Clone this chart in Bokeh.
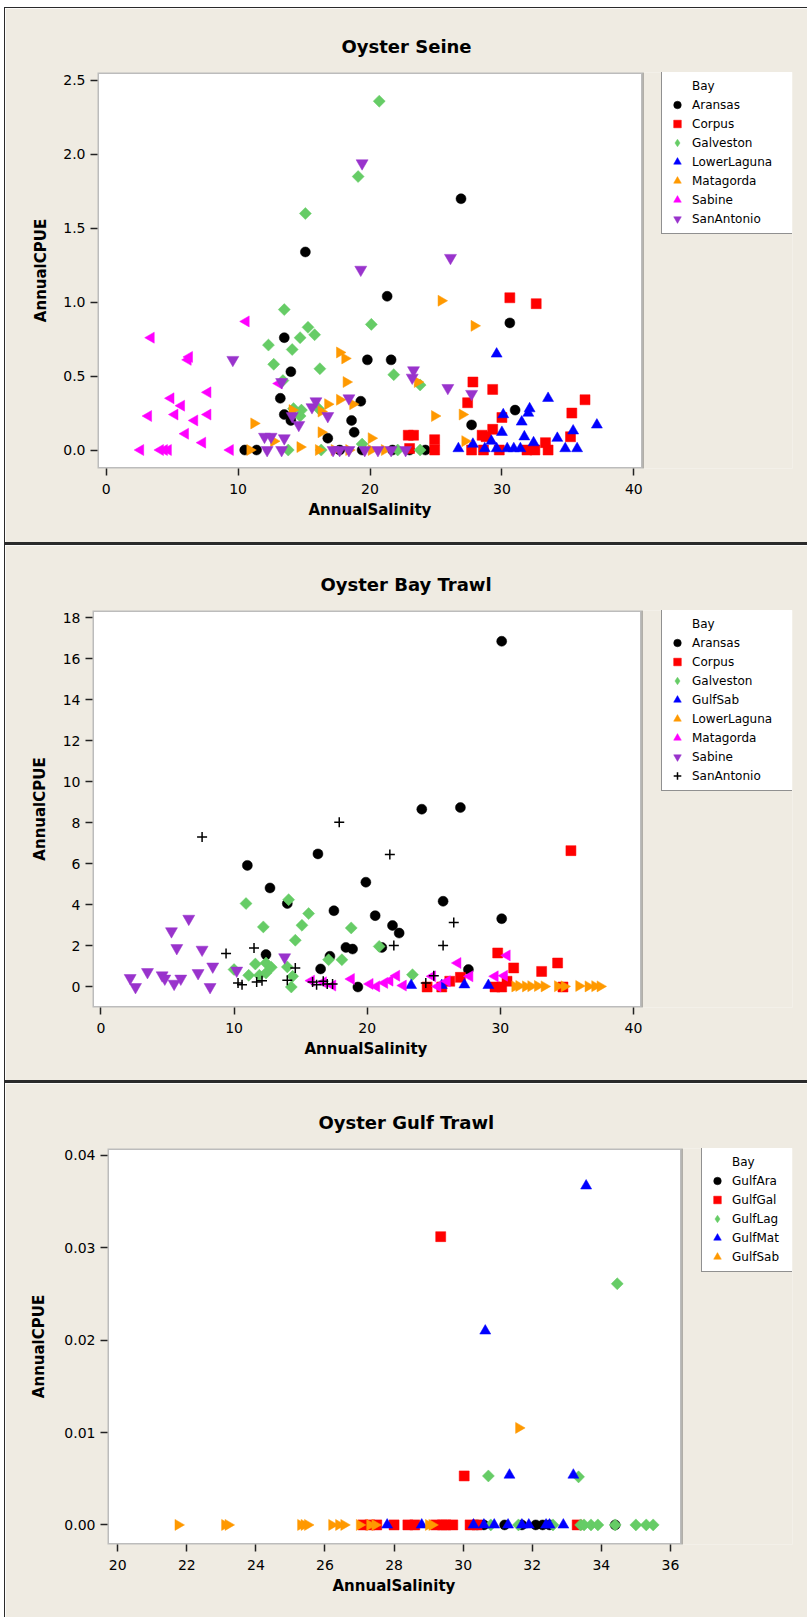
import math
from bokeh.plotting import figure
from bokeh.models import (Legend, LegendItem, FixedTicker, PrintfTickFormatter,
                          Range1d, Div, Spacer, BoxAnnotation, Title)
from bokeh.layouts import column, row
from bokeh.embed import file_html
from bokeh.resources import INLINE

# ---------------- data: Oyster Seine ----------------
seine_aransas_x = [10.5, 11.4, 13.2, 13.5, 13.5, 14.0, 14.0, 15.1, 16.8, 17.7, 18.6, 18.8, 19.3, 19.4, 19.8, 21.3, 21.6, 21.7, 23.0, 24.2, 26.9, 27.7, 30.6, 31.0]
seine_aransas_y = [0, 0, 0.35, 0.76, 0.24, 0.53, 0.20, 1.34, 0.08, 0, 0.20, 0.12, 0.33, 0, 0.61, 1.04, 0.61, 0, 0, 0, 1.70, 0.17, 0.86, 0.27]
seine_corpus_x = [22.9, 23.3, 23.0, 24.9, 24.9, 27.4, 27.8, 27.7, 28.5, 28.8, 28.6, 29.3, 29.3, 29.8, 30.0, 30.6, 31.9, 32.5, 32.6, 33.3, 33.5, 35.2, 35.3, 36.3]
seine_corpus_y = [0.10, 0.10, 0.01, 0.07, 0.0, 0.32, 0.46, 0.0, 0.10, 0.09, 0.0, 0.41, 0.14, 0.0, 0.22, 1.03, 0.0, 0.0, 0.99, 0.05, 0.0, 0.09, 0.25, 0.34]
seine_galveston_x = [12.3, 12.7, 13.4, 13.5, 13.8, 14.1, 14.2, 14.7, 14.7, 14.8, 15.1, 15.3, 15.8, 16.1, 16.2, 16.3, 19.1, 19.4, 20.1, 20.7, 21.8, 22.1, 23.8, 23.8]
seine_galveston_y = [0.71, 0.58, 0.47, 0.95, 0.0, 0.68, 0.28, 0.76, 0.23, 0.27, 1.60, 0.83, 0.78, 0.28, 0.55, 0.0, 1.85, 0.04, 0.85, 2.36, 0.51, 0.0, 0.44, 0.0]
seine_lowerlaguna_x = [26.7, 27.8, 28.7, 29.2, 29.6, 29.6, 30.0, 30.1, 30.4, 30.9, 31.4, 31.5, 31.7, 32.0, 32.1, 32.4, 33.5, 34.2, 34.8, 35.4, 35.7, 37.2]
seine_lowerlaguna_y = [0.01, 0.04, 0.01, 0.06, 0.01, 0.65, 0.12, 0.24, 0.01, 0.01, 0.01, 0.19, 0.09, 0.25, 0.28, 0.05, 0.35, 0.08, 0.01, 0.13, 0.01, 0.17]
seine_matagorda_x = [10.9, 11.2, 12.7, 14.1, 14.7, 16.1, 16.3, 16.3, 16.8, 17.3, 17.7, 17.7, 18.1, 18.2, 18.4, 18.7, 20.1, 20.1, 21.1, 23.6, 24.9, 25.4, 27.0, 27.2, 27.9]
seine_matagorda_y = [0.0, 0.18, 0.06, 0.27, 0.02, 0.0, 0.26, 0.12, 0.31, 0.0, 0.66, 0.34, 0.62, 0.46, 0.0, 0.31, 0.08, 0.0, 0.0, 0.46, 0.23, 1.01, 0.24, 0.06, 0.84]
seine_sabine_x = [2.6, 3.2, 3.4, 4.1, 4.4, 4.7, 4.9, 5.2, 5.7, 6.0, 6.2, 6.3, 6.7, 7.3, 7.7, 7.7, 9.4, 10.6, 13.1]
seine_sabine_y = [0.0, 0.23, 0.76, 0.0, 0.0, 0.0, 0.35, 0.24, 0.30, 0.11, 0.61, 0.63, 0.20, 0.05, 0.39, 0.24, 0.0, 0.87, 0.45]
seine_sanantonio_x = [9.6, 12.0, 12.2, 12.5, 13.3, 13.3, 13.5, 14.1, 14.6, 15.6, 15.9, 16.8, 17.2, 17.7, 18.4, 18.4, 19.3, 19.4, 19.6, 20.6, 21.6, 22.7, 23.2, 23.3, 25.9, 26.1, 27.7]
seine_sanantonio_y = [0.61, 0.09, 0.0, 0.09, 0.46, 0.0, 0.08, 0.23, 0.17, 0.29, 0.33, 0.23, 0.0, 0.0, 0.0, 0.35, 1.22, 1.94, 0.0, 0.0, 0.0, 0.0, 0.49, 0.54, 0.42, 1.30, 0.38]

# ---------------- data: Oyster Bay Trawl ----------------
bay_aransas_x = [11.0, 12.4, 12.7, 14.0, 16.3, 16.5, 17.2, 17.5, 18.4, 18.9, 19.3, 19.9, 20.6, 21.1, 21.9, 22.4, 24.1, 25.7, 27.0, 27.6, 30.1, 30.1]
bay_aransas_y = [5.93, 1.58, 4.83, 4.07, 6.49, 0.88, 1.50, 3.72, 1.93, 1.85, 0.0, 5.11, 3.48, 1.93, 3.0, 2.63, 8.67, 4.18, 8.75, 0.85, 16.86, 3.33]
bay_corpus_x = [24.5, 25.6, 26.2, 27.0, 29.6, 29.8, 30.1, 30.5, 31.0, 33.1, 34.3, 34.7, 35.3]
bay_corpus_y = [0.0, 0.0, 0.28, 0.47, 0.0, 1.66, 0.0, 0.28, 0.93, 0.76, 1.17, 0.0, 6.65]
bay_galveston_x = [10.0, 10.9, 11.1, 11.6, 11.9, 12.2, 12.4, 12.4, 12.8, 14.0, 14.1, 14.3, 14.4, 14.6, 15.1, 15.6, 17.1, 18.1, 18.8, 20.9, 23.4]
bay_galveston_y = [0.85, 4.07, 0.57, 1.12, 0.57, 2.93, 1.17, 0.68, 0.96, 0.98, 4.26, 0.0, 0.52, 2.28, 3.01, 3.58, 1.33, 1.33, 2.88, 1.98, 0.60]
bay_gulfsab_x = [23.3, 25.6, 27.3, 29.1]
bay_gulfsab_y = [0.08, 0.08, 0.11, 0.08]
bay_lowerlaguna_x = [31.1, 31.4, 31.9, 32.3, 32.8, 33.3, 34.3, 34.8, 35.9, 36.6, 37.1, 37.5]
bay_lowerlaguna_y = [0.03, 0.05, 0.03, 0.04, 0.05, 0.03, 0.04, 0.03, 0.05, 0.03, 0.04, 0.03]
bay_matagorda_x = [15.8, 16.7, 17.4, 18.8, 20.2, 20.7, 21.3, 21.7, 22.2, 22.7, 24.9, 25.3, 26.0, 26.8, 27.7, 29.6, 30.3, 30.5]
bay_matagorda_y = [0.31, 0.23, 0.07, 0.39, 0.15, 0.03, 0.20, 0.31, 0.55, 0.07, 0.52, 0.03, 0.28, 1.17, 0.52, 0.52, 0.55, 1.54]
bay_sabine_x = [2.2, 2.6, 3.5, 4.6, 4.8, 5.3, 5.5, 5.7, 6.0, 6.6, 7.3, 7.6, 8.2, 8.4, 10.2, 13.8]
bay_sabine_y = [0.44, 0.0, 0.73, 0.57, 0.41, 2.72, 0.16, 1.90, 0.41, 3.33, 0.68, 1.82, 0.0, 1.0, 0.80, 1.45]
bay_sanantonio_x = [7.6, 9.4, 10.3, 10.6, 11.5, 11.7, 12.1, 14.0, 14.6, 15.9, 16.2, 16.7, 17.0, 17.4, 17.9, 21.7, 22.0, 24.4, 25.0, 25.7, 26.5]
bay_sanantonio_y = [7.32, 1.63, 0.20, 0.11, 1.90, 0.24, 0.31, 0.33, 0.93, 0.24, 0.11, 0.28, 0.15, 0.15, 8.03, 6.46, 2.02, 0.20, 0.55, 2.02, 3.15]

# ---------------- data: Oyster Gulf Trawl ----------------
gulf_ara_x = [30.4, 30.6, 31.2, 31.7, 32.1, 32.3, 32.5, 34.4]
gulf_ara_y = [0, 0, 0, 0, 0, 0, 0, 0]
gulf_gal_x = [27.1, 27.3, 27.5, 28.0, 28.4, 28.6, 29.2, 29.35, 29.4, 29.5, 29.7, 30.03, 30.2, 30.4, 33.3]
gulf_gal_y = [0, 0, 0, 0, 0, 0, 0, 0.0312, 0, 0, 0, 0.0053, 0, 0, 0]
gulf_lag_x = [30.73, 30.8, 31.6, 32.6, 33.34, 33.4, 33.5, 33.7, 33.9, 34.4, 34.46, 35.0, 35.3, 35.5]
gulf_lag_y = [0.0053, 0, 0, 0, 0.0052, 0, 0, 0, 0, 0, 0.0261, 0, 0, 0]
gulf_mat_x = [27.8, 28.8, 30.3, 30.6, 30.64, 30.9, 31.3, 31.34, 31.7, 31.9, 32.4, 32.5, 32.9, 33.19, 33.56]
gulf_mat_y = [0, 0, 0, 0, 0.0210, 0, 0, 0.0054, 0, 0, 0, 0, 0, 0.0054, 0.0367]
gulf_sab_x = [21.75, 23.1, 23.2, 25.3, 25.4, 25.5, 26.2, 26.4, 26.55, 27.0, 27.3, 27.45, 29.0, 29.1, 31.61]
gulf_sab_y = [0, 0, 0, 0, 0, 0, 0, 0, 0, 0, 0, 0, 0, 0, 0.0105]

# tick values
seine_xticks = [0, 10, 20, 30, 40]
seine_yticks = [0.0, 0.5, 1.0, 1.5, 2.0, 2.5]
bay_xticks = [0, 10, 20, 30, 40]
bay_yticks = [0, 2, 4, 6, 8, 10, 12, 14, 16, 18]
gulf_xticks = [20, 22, 24, 26, 28, 30, 32, 34, 36]
gulf_yticks = [0.00, 0.01, 0.02, 0.03, 0.04]

BG = "#EFEBE2"
FONT = "DejaVu Sans"
DARK = "#222222"
LINE = "#2a2a2a"

# symbol styles (Minitab order); "legend" = marker shown in the legend key
S_CIRCLE = dict(marker="circle", size=10, angle=0.0, color="black", legend="circle")
S_SQUARE = dict(marker="square", size=10, angle=0.0, color="#FF0000", legend="square")
S_DIAMOND = dict(marker="square", size=8.5, angle=math.pi / 4, color="#66CC66", legend="diamond")
S_TRI = dict(marker="triangle", size=11, angle=0.0, color="#0000FF", legend="triangle")
S_RIGHT = dict(marker="triangle", size=11, angle=-math.pi / 2, color="#FF9900", legend="triangle")
S_LEFT = dict(marker="triangle", size=11, angle=math.pi / 2, color="#FF00FF", legend="triangle")
S_DOWN = dict(marker="inverted_triangle", size=12, angle=0.0, color="#9933CC", legend="inverted_triangle")
S_CROSS = dict(marker="cross", size=10, angle=0.0, color="black", legend="cross")


def make_panel(title, title_offset, xlab_offset, frame_w, frame_h, borders,
               plot_x, frame_x_end, yr, xticks, yticks, yfmt,
               groups, legend_x, label_width, ylab_standoff):
    left, right, top, bottom = borders
    p = figure(frame_width=frame_w, frame_height=frame_h,
               output_backend="svg", toolbar_location=None,
               x_range=Range1d(plot_x[0], frame_x_end), y_range=Range1d(*yr), title=title,
               min_border_left=left, min_border_right=right,
               min_border_top=top, min_border_bottom=bottom,
               background_fill_color=BG, border_fill_color=BG)
    if "frame_align" in p.properties():
        p.frame_align = False

    # white plotting region with its dark frame (the legend sits to its right)
    p.add_layout(BoxAnnotation(left=plot_x[0], right=plot_x[1], bottom=yr[0], top=yr[1],
                               fill_color="white", fill_alpha=1.0,
                               line_color=DARK, line_width=3, level="underlay"))

    p.title.align = "left"
    p.title.offset = title_offset
    p.title.text_font = FONT
    p.title.text_font_size = "18px"
    p.title.text_font_style = "bold"
    p.title.text_color = "black"
    p.title.standoff = 31

    p.grid.visible = False
    p.outline_line_color = None

    for ax in (p.xaxis[0], p.yaxis[0]):
        ax.axis_line_color = None
        ax.major_tick_out = 7
        ax.major_tick_in = 0
        ax.minor_tick_line_color = None
        ax.major_tick_line_color = DARK
        ax.major_tick_line_width = 1.5
        ax.major_label_text_font = FONT
        ax.major_label_text_font_size = "14px"
        ax.major_label_text_color = "black"
        ax.axis_label_text_font = FONT
        ax.axis_label_text_font_size = "15px"
        ax.axis_label_text_font_style = "bold"
        ax.axis_label_text_color = "black"

    p.yaxis.axis_label = "AnnualCPUE"
    p.xaxis.ticker = FixedTicker(ticks=xticks)
    p.yaxis.ticker = FixedTicker(ticks=yticks)
    p.xaxis.formatter = PrintfTickFormatter(format="%d")
    p.yaxis.formatter = PrintfTickFormatter(format=yfmt)
    p.xaxis.major_label_standoff = 8
    p.yaxis.major_label_standoff = 5
    p.yaxis.axis_label_standoff = ylab_standoff

    # x axis title, centred under the plotting region
    p.add_layout(Title(text="AnnualSalinity", align="left", offset=xlab_offset,
                       vertical_align="top", standoff=9,
                       text_font=FONT, text_font_size="15px", text_font_style="bold",
                       text_color="black"), "below")

    header = p.scatter(x=[], y=[], marker="circle", size=1, fill_alpha=0, line_alpha=0)
    items = [LegendItem(label="Bay", renderers=[header])]
    for name, xs, ys, st in groups:
        r = p.scatter(x=xs, y=ys, marker=st["marker"], size=st["size"], angle=st["angle"],
                      fill_color=st["color"], line_color=st["color"],
                      line_width=1.5 if st["marker"] == "cross" else 0.5)
        if st["legend"] != st["marker"]:
            # hidden twin of the series, only used to draw the legend key shape
            key = p.scatter(x=xs, y=ys, marker=st["legend"], size=st["size"],
                            fill_color=st["color"], line_color=st["color"], line_width=0.5,
                            visible=False)
        else:
            key = r
        items.append(LegendItem(label=name, renderers=[key]))

    n = len(items)
    leg_h = 2 * 5 + 19 * n
    legend = Legend(items=items, location=(legend_x, frame_h - leg_h), padding=5, spacing=0,
                    margin=0, label_height=19, glyph_height=19, glyph_width=20,
                    label_standoff=5, label_width=label_width,
                    label_text_font=FONT, label_text_font_size="12px", label_text_color="black",
                    border_line_color=DARK, border_line_width=1.5,
                    background_fill_color="white", background_fill_alpha=1.0,
                    inactive_fill_alpha=0.0)
    p.add_layout(legend)
    return p


p1 = make_panel("Oyster Seine", 244, 211, 695, 396, (92, 15, 64, 74),
                (-0.66, 40.66), 52.03, (-0.125, 2.554), seine_xticks, seine_yticks, "%.1f",
                [("Aransas", seine_aransas_x, seine_aransas_y, S_CIRCLE),
                 ("Corpus", seine_corpus_x, seine_corpus_y, S_SQUARE),
                 ("Galveston", seine_galveston_x, seine_galveston_y, S_DIAMOND),
                 ("LowerLaguna", seine_lowerlaguna_x, seine_lowerlaguna_y, S_TRI),
                 ("Matagorda", seine_matagorda_x, seine_matagorda_y, S_RIGHT),
                 ("Sabine", seine_sabine_x, seine_sabine_y, S_LEFT),
                 ("SanAntonio", seine_sanantonio_x, seine_sanantonio_y, S_DOWN)],
                564, 96, 10)

p2 = make_panel("Oyster Bay Trawl", 228, 212, 700, 397, (87, 15, 65, 73),
                (-0.63, 40.6), 51.94, (-1.0, 18.36), bay_xticks, bay_yticks, "%d",
                [("Aransas", bay_aransas_x, bay_aransas_y, S_CIRCLE),
                 ("Corpus", bay_corpus_x, bay_corpus_y, S_SQUARE),
                 ("Galveston", bay_galveston_x, bay_galveston_y, S_DIAMOND),
                 ("GulfSab", bay_gulfsab_x, bay_gulfsab_y, S_TRI),
                 ("LowerLaguna", bay_lowerlaguna_x, bay_lowerlaguna_y, S_RIGHT),
                 ("Matagorda", bay_matagorda_x, bay_matagorda_y, S_LEFT),
                 ("Sabine", bay_sabine_x, bay_sabine_y, S_DOWN),
                 ("SanAntonio", bay_sanantonio_x, bay_sanantonio_y, S_CROSS)],
                569, 96, 11)

p3 = make_panel("Oyster Gulf Trawl", 211, 225, 685, 396, (102, 15, 65, 73),
                (19.705, 36.32), 39.533, (-0.00212, 0.04074), gulf_xticks, gulf_yticks, "%.2f",
                [("GulfAra", gulf_ara_x, gulf_ara_y, S_CIRCLE),
                 ("GulfGal", gulf_gal_x, gulf_gal_y, S_SQUARE),
                 ("GulfLag", gulf_lag_x, gulf_lag_y, S_DIAMOND),
                 ("GulfMat", gulf_mat_x, gulf_mat_y, S_TRI),
                 ("GulfSab", gulf_sab_x, gulf_sab_y, S_RIGHT)],
                594, 56, 13)


def hline(w, h):
    return Div(text="", width=w, height=h, margin=0,
               styles={"background-color": LINE})


FIG_W = 802
right_col = column(Spacer(width=FIG_W, height=7, margin=0), hline(FIG_W, 1),
                   p1, hline(FIG_W, 3), p2, hline(FIG_W, 3), p3, spacing=0)
border_col = column(Spacer(width=1, height=7, margin=0), hline(1, 1610), spacing=0)
layout = row(Spacer(width=4, height=1617, margin=0), border_col, right_col, spacing=0)

open("out.html", "w").write(file_html(layout, INLINE))
